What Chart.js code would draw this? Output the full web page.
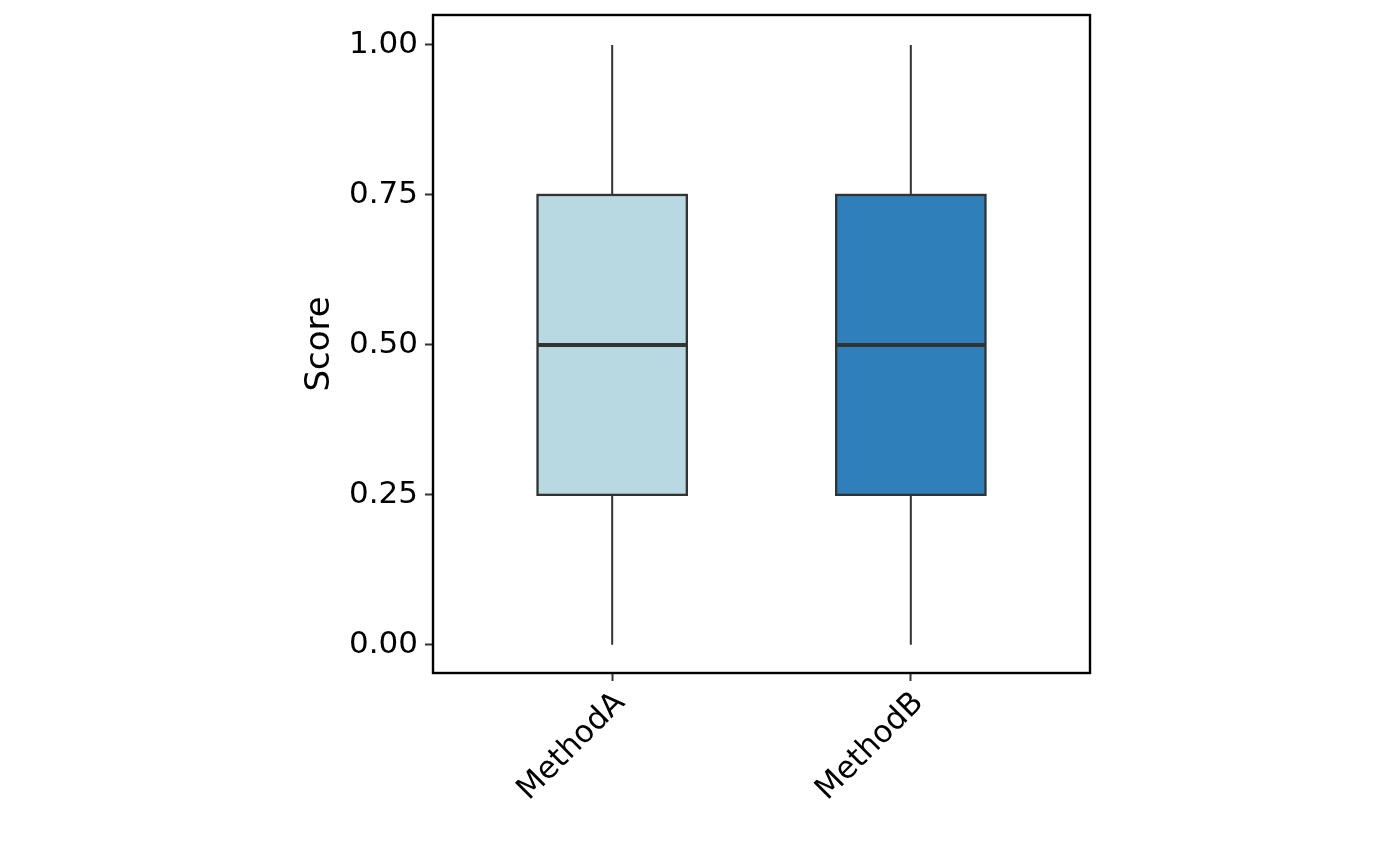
<!DOCTYPE html>
<html>
<head>
<meta charset="utf-8">
<script src="https://cdn.jsdelivr.net/npm/chart.js@4/dist/chart.umd.min.js"></script>
<style>
  html, body { margin: 0; padding: 0; background: #fff; }
  #wrap { width: 1400px; height: 866px; }
</style>
</head>
<body>
<div id="wrap"><canvas id="chart-box"></canvas></div>
<script>
// Box plot summary per method
const methods = ['MethodA', 'MethodB'];
const minVals = [0.0, 0.0];
const q1Vals = [0.25, 0.25];
const medianVals = [0.5, 0.5];
const q3Vals = [0.75, 0.75];
const maxVals = [1.0, 1.0];
const boxColors = ['#B9D9E2', '#2E7FBA'];
const yTicks = [0, 0.25, 0.5, 0.75, 1];

const INK = '#333333';
const FONT = "'DejaVu Sans', sans-serif";

// x positions 1..n on a linear scale, like ggplot's discrete axis
const positions = methods.map((m, i) => i + 1);

const boxPlugin = {
  id: 'boxParts',
  beforeDatasetsDraw(chart) {
    // whiskers, drawn under the boxes
    const { ctx, scales } = chart;
    ctx.save();
    ctx.strokeStyle = INK;
    ctx.lineWidth = 2;
    positions.forEach((p, i) => {
      const x = scales.x.getPixelForValue(p);
      ctx.beginPath();
      ctx.moveTo(x, scales.y.getPixelForValue(maxVals[i]));
      ctx.lineTo(x, scales.y.getPixelForValue(q3Vals[i]));
      ctx.moveTo(x, scales.y.getPixelForValue(q1Vals[i]));
      ctx.lineTo(x, scales.y.getPixelForValue(minVals[i]));
      ctx.stroke();
    });
    ctx.restore();
  },
  afterDatasetsDraw(chart) {
    // box outlines (centred on the edge) and medians
    const { ctx, scales } = chart;
    const bars = chart.getDatasetMeta(0).data;
    ctx.save();
    ctx.strokeStyle = INK;
    bars.forEach((bar, i) => {
      const half = bar.width / 2;
      const top = Math.min(bar.y, bar.base);
      const h = Math.abs(bar.base - bar.y);
      ctx.lineWidth = 2.3;
      ctx.strokeRect(bar.x - half, top, bar.width, h);
      const y = scales.y.getPixelForValue(medianVals[i]);
      ctx.lineWidth = 4;
      ctx.beginPath();
      ctx.moveTo(bar.x - half, y);
      ctx.lineTo(bar.x + half, y);
      ctx.stroke();
    });
    ctx.restore();
  },
  afterDraw(chart) {
    // panel border
    const { ctx, chartArea: a } = chart;
    ctx.save();
    ctx.strokeStyle = '#000';
    ctx.lineWidth = 2.4;
    ctx.strokeRect(a.left, a.top, a.right - a.left, a.bottom - a.top);
    ctx.restore();
  },
};

new Chart(document.getElementById('chart-box'), {
  type: 'bar',
  data: {
    datasets: [
      {
        data: positions.map((p, i) => ({ x: p, y: [q1Vals[i], q3Vals[i]] })),
        backgroundColor: boxColors,
        borderWidth: 0,
        barPercentage: 0.5,
        categoryPercentage: 1.0,
      },
    ],
  },
  options: {
    responsive: true,
    maintainAspectRatio: false,
    animation: false,
    devicePixelRatio: 1,
    layout: { padding: { left: 300, right: 310, top: 15, bottom: 0 } },
    plugins: {
      legend: { display: false },
      tooltip: { enabled: false },
    },
    scales: {
      x: {
        type: 'linear',
        min: 0.4,
        max: 2.6,
        offset: false,
        afterBuildTicks: (s) => { s.ticks = positions.map((v) => ({ value: v })); },
        afterFit: (s) => { s.height = 193; s.paddingLeft = 0; s.paddingRight = 0; },
        grid: { offset: false, drawOnChartArea: false, tickLength: 8, tickColor: INK, tickWidth: 2 },
        border: { display: false },
        ticks: {
          autoSkip: false,
          minRotation: 45,
          maxRotation: 45,
          padding: 4,
          labelOffset: 8,
          color: '#000',
          font: { family: FONT, size: 31 },
          callback: (v) => methods[v - 1] || '',
        },
      },
      y: {
        min: -0.047,
        max: 1.05,
        afterBuildTicks: (s) => { s.ticks = yTicks.map((v) => ({ value: v })); },
        afterFit: (s) => { s.width = 133; s.paddingTop = 0; s.paddingBottom = 0; },
        grid: { drawOnChartArea: false, tickLength: 8, tickColor: INK, tickWidth: 2 },
        border: { display: false },
        title: {
          display: true,
          text: 'Score',
          color: '#000',
          padding: { top: 0, bottom: 0 },
          font: { family: FONT, size: 34 },
        },
        ticks: {
          padding: 7,
          color: '#000',
          font: { family: FONT, size: 31 },
          callback: (v) => v.toFixed(2),
        },
      },
    },
  },
  plugins: [boxPlugin],
});
</script>
</body>
</html>
